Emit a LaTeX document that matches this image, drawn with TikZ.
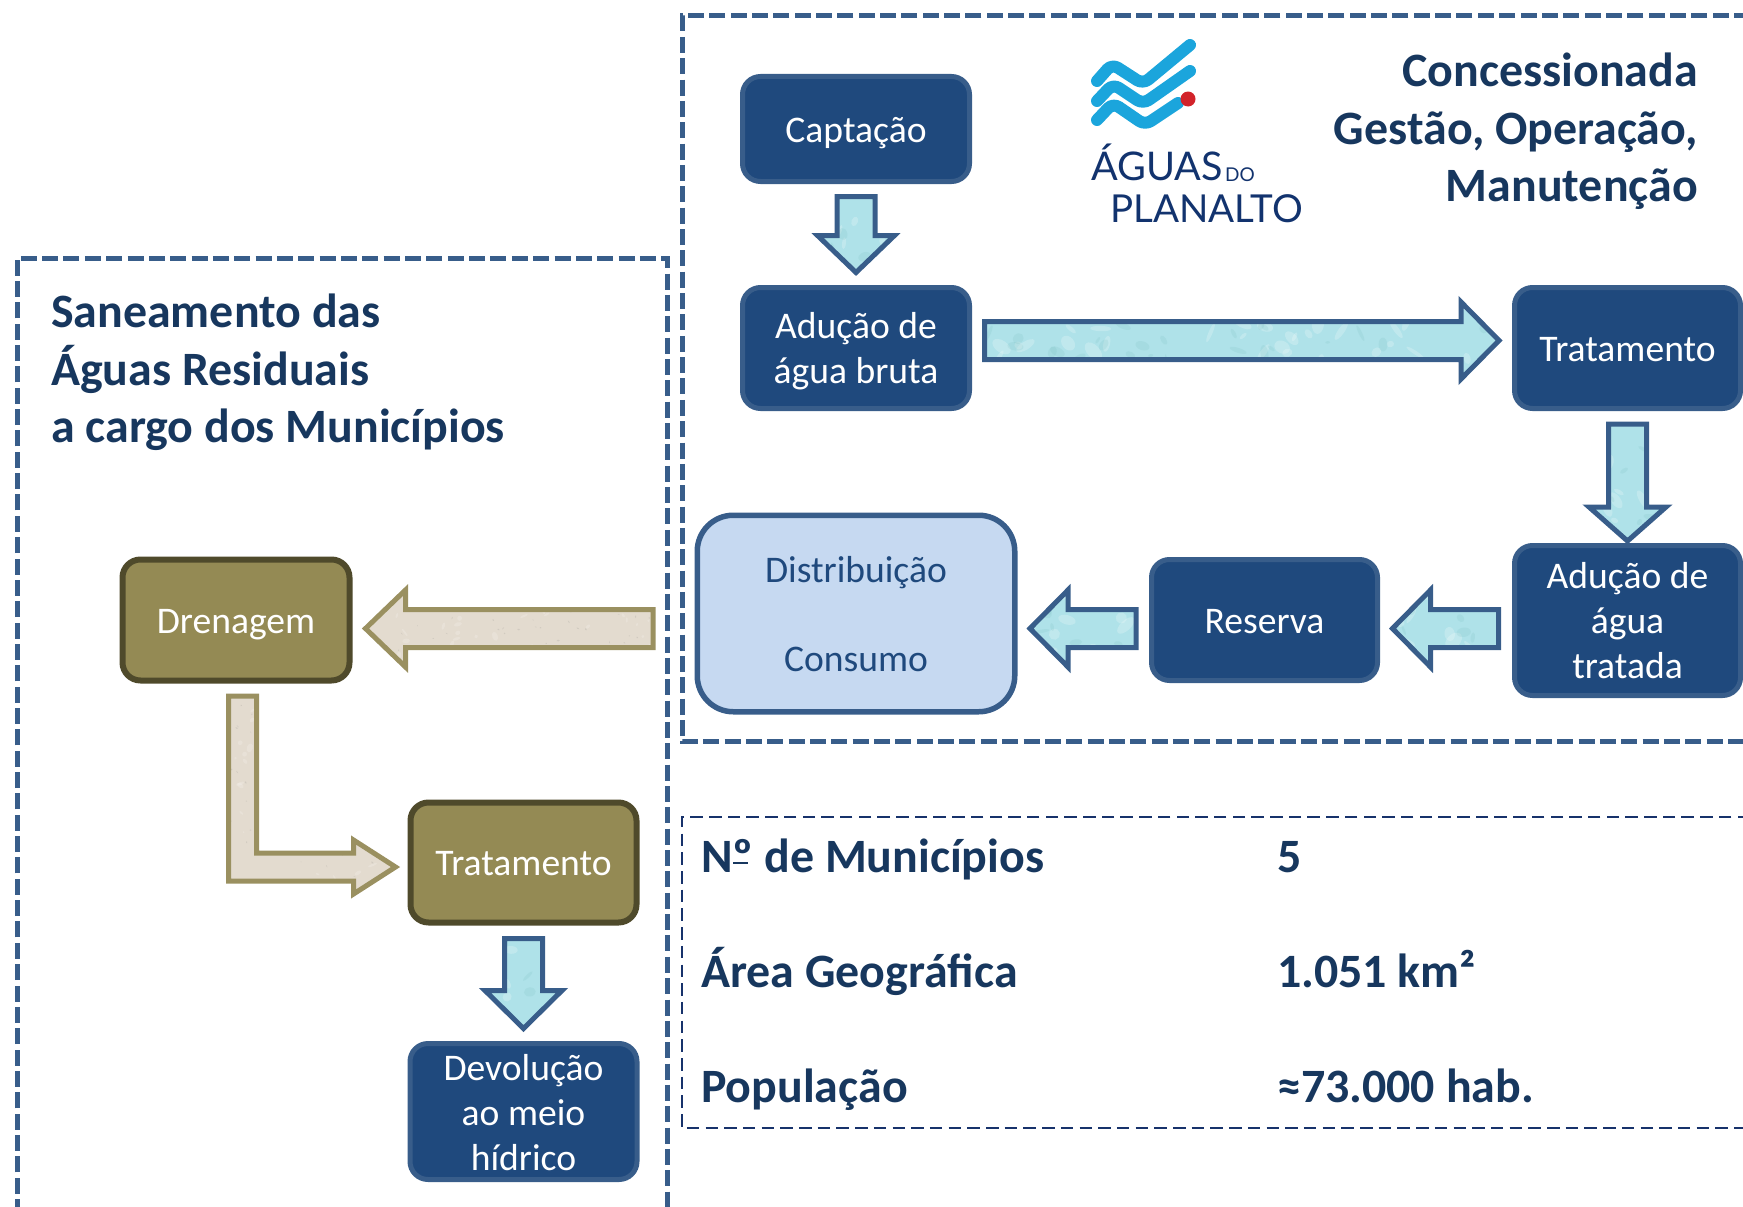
\documentclass[tikz,border=0pt]{standalone}
\usepackage{fontspec}
\setmainfont{Carlito}
\newfontfamily\logofont{Lato}
\usetikzlibrary{calc}
\definecolor{boxblue}{HTML}{1F497D}
\definecolor{edgeblue}{HTML}{385D8A}
\definecolor{lightblue}{HTML}{C6D9F1}
\definecolor{olivefill}{HTML}{948A54}
\definecolor{oliveedge}{HTML}{4F4A2B}
\definecolor{arrowolive}{HTML}{9A9060}
\definecolor{parch}{HTML}{E3DBCF}
\definecolor{navy}{HTML}{17375E}
\definecolor{thinnavy}{HTML}{17326B}
\definecolor{water}{HTML}{AFE2E9}
\definecolor{logoblue}{HTML}{1BA5DC}
\definecolor{logored}{HTML}{D2232A}
\definecolor{logonavy}{HTML}{12336E}
\newcommand\texturespots[5]{% count, colour, opacity, min radius, spread
  \foreach \i in {1,...,#1}{
    \pgfmathsetmacro\rx{rnd}\pgfmathsetmacro\ry{rnd}
    \pgfmathsetmacro\ra{#4+#5*rnd}\pgfmathsetmacro\rb{(#4+#5*rnd)*0.6}\pgfmathsetmacro\rt{rnd*180}
    \coordinate (pa) at ($(path picture bounding box.south west)!\rx!(path picture bounding box.north east)$);
    \coordinate (pb) at ($(path picture bounding box.south west)!\ry!(path picture bounding box.north east)$);
    \coordinate (pc) at (pa |- pb);
    \fill[#2,opacity=#3,rotate around={\rt:(pc)}] (pc) ellipse ({\ra pt} and {\rb pt});
  }}
\tikzset{
  x=1pt,y=-1pt,
  txt/.style={font=\fontsize{37.6}{45}\selectfont,align=center,inner sep=0pt},
  flowbox/.style={inner sep=0pt,rounded corners=18pt,line width=5pt,draw=edgeblue,fill=boxblue},
  olivebox/.style={inner sep=0pt,rounded corners=18pt,line width=6pt,draw=oliveedge,fill=olivefill},
  lightbox/.style={inner sep=0pt,rounded corners=36pt,line width=5.5pt,draw=edgeblue,fill=lightblue},
  title/.style={font=\fontsize{47.9}{58}\selectfont\bfseries,text=navy,inner sep=0pt,align=left},
  frame/.style={line width=5pt,draw=edgeblue,dash pattern=on 16pt off 5.35pt},
  thinframe/.style={line width=2.4pt,draw=thinnavy,dash pattern=on 12.5pt off 6.2pt},
  waterarrow/.style={line width=5pt,draw=edgeblue,fill=water,miter limit=10,
    path picture={\texturespots{#1}{white}{0.22}{3}{8}\texturespots{#1}{teal!55}{0.16}{2}{7}}},
  parcharrow/.style={line width=5pt,draw=arrowolive,fill=parch,
    path picture={\texturespots{#1}{gray}{0.18}{0.5}{1.2}\texturespots{#1}{white}{0.18}{1}{4}}},
  wave/.style={line width=12pt,draw=logoblue,line cap=round,line join=round,rounded corners=7pt},
}
% style, tail, tip, head length
\newcommand\blockarrow[4]{%
  \coordinate (sh) at ($(#3)!#4pt!(#2)$);
  \draw[#1] ($(#2)!19pt!90:(#3)$) -- ($(sh)!19pt!-90:(#2)$) -- ($(sh)!38.5pt!-90:(#2)$) -- (#3)
    -- ($(sh)!38.5pt!90:(#2)$) -- ($(sh)!19pt!90:(#2)$) -- ($(#2)!19pt!-90:(#3)$) -- cycle;}
\begin{document}
\begin{tikzpicture}
\useasboundingbox (0,0) rectangle (1743,1207);
\pgfmathsetseed{4242}
% frames
\coordinate (tr1) at (1750,16); \coordinate (tr2) at (682,16); \coordinate (tr3) at (682,741.5); \coordinate (tr4) at (1750,741.5);
\draw[frame] (tr1) -- (tr2) -- (tr3) -- (tr4);
\coordinate (lf1) at (17,1215); \coordinate (lf2) at (17,258); \coordinate (lf3) at (667,258); \coordinate (lf4) at (667,1215);
\draw[frame] (lf1) -- (lf2) -- (lf3) -- (lf4);
\coordinate (th1) at (1750,817); \coordinate (th2) at (682,817); \coordinate (th3) at (682,1128); \coordinate (th4) at (1750,1128);
\draw[thinframe] (th1) -- (th2) -- (th3) -- (th4);
% flow boxes (text as centred labels, so that it can sit as low in the box as the reference has it)
\node[flowbox,minimum width=227pt,minimum height=105pt,label={[txt,text=white,yshift=-4.5pt]center:Captação}] (cap) at (856,129) {};
\node[flowbox,minimum width=227pt,minimum height=121pt,label={[txt,text=white,yshift=-3.4pt]center:Adução de\\água bruta}] (adb) at (856,348) {};
\node[flowbox,minimum width=226pt,minimum height=121pt,label={[txt,text=white,yshift=-1.2pt]center:Tratamento}] (trat) at (1627.5,348) {};
\node[flowbox,minimum width=226pt,minimum height=150pt,label={[txt,text=white,yshift=0.3pt]center:Adução de\\água\\tratada}] (adt) at (1627.5,620.5) {};
\node[flowbox,minimum width=226pt,minimum height=121pt,label={[txt,text=white,yshift=-1.2pt]center:Reserva}] (res) at (1264.5,620) {};
\node[lightbox,minimum width=317.5pt,minimum height=196.5pt,label={[txt,text=boxblue,yshift=-0.5pt]center:Distribuição\\[44pt]Consumo}] (dist) at (856,613.5) {};
\node[olivebox,minimum width=227pt,minimum height=121pt,label={[txt,text=white,yshift=-4.4pt]center:Drenagem}] (dren) at (236,620) {};
\node[olivebox,minimum width=226pt,minimum height=120pt,label={[txt,text=white,yshift=-1pt]center:Tratamento}] (trat2) at (523.5,862.5) {};
\node[flowbox,minimum width=227pt,minimum height=136pt,label={[txt,text=white,yshift=-1.2pt]center:Devolução\\ao meio\\hídrico}] (dev) at (523.5,1111.5) {};
% block arrows
\coordinate (a1t) at ($(cap.south)+(0,12.5)$); \coordinate (a1h) at ($(adb.north)+(0,-12.5)$);
\blockarrow{waterarrow=7}{a1t}{a1h}{37}
\coordinate (a2t) at ($(adb.east)+(12.5,-7.5)$); \coordinate (a2h) at ($(trat.west)+(-13,-7.5)$);
\blockarrow{waterarrow=45}{a2t}{a2h}{38}
\coordinate (a3t) at ($(trat.south)+(0,13)$); \coordinate (a3h) at ($(adt.north)+(0,-2)$);
\blockarrow{waterarrow=12}{a3t}{a3h}{34}
\coordinate (a4t) at ($(adt.west)+(-13.5,8)$); \coordinate (a4h) at ($(res.east)+(12.5,8.5)$);
\blockarrow{waterarrow=12}{a4t}{a4h}{38}
\coordinate (a5t) at ($(res.west)+(-13,8.5)$); \coordinate (a5h) at ($(dist.east)+(12.5,15)$);
\blockarrow{waterarrow=12}{a5t}{a5h}{38}
\coordinate (a6t) at ($(dist.west)+(-41.5,15)$); \coordinate (a6h) at ($(dren.east)+(13,8.5)$);
\blockarrow{parcharrow=60}{a6t}{a6h}{40}
\coordinate (a7t) at ($(trat2.south)+(0,13)$); \coordinate (a7h) at ($(dev.north)+(0,-12.5)$);
\blockarrow{waterarrow=8}{a7t}{a7h}{38}
% L-shaped arrow from Drenagem to Tratamento
\coordinate (l0) at ($(dren.south)+(6.5,12.5)$);
\coordinate (lh) at ($(trat2.west)+(-12,4.5)$);
\draw[parcharrow=60] ($(l0)+(-14,0)$) -- ($(l0)+(14,0)$) |- ($(lh)+(-42,-14)$) -- ($(lh)+(-42,-27)$) -- (lh)
  -- ($(lh)+(-42,27)$) -- ($(lh)+(-42,14)$) -| ($(l0)+(-14,0)$) -- cycle;
% titles
\node[title,anchor=base east,align=right] (t1) at (1698,86) {Concessionada};
\node[title,anchor=base east,align=right] (t2) at (1698,144) {Gestão, Operação,};
\node[title,anchor=base east,align=right] (t3) at (1698,201) {Manutenção};
\node[title,anchor=base west] (t4) at (51,327) {Saneamento das};
\node[title,anchor=base west] (t5) at (51,385) {Águas Residuais};
\node[title,anchor=base west] (t6) at (51,442) {a cargo dos Municípios};
% data table
\node[title,anchor=base west] (d1) at (701,872) {N\rlap{\kern0.5pt\rule[8pt]{15pt}{2.4pt}}º de Municípios};
\node[title,anchor=base west] (d2) at (701,987) {Área Geográfica};
\node[title,anchor=base west] (d3) at (701,1102) {População};
\node[title,anchor=base west] (v1) at (1277,872) {5};
\node[title,anchor=base west] (v2) at (1277,987) {1.051 km²};
\node[title,anchor=base west] (v3) at (1277,1102) {≈73.000 hab.};
% logo
\draw[wave] (1097,81) -- (1112,64) -- (1143,84) -- (1190,45);
\draw[wave] (1097,101) -- (1113,84) -- (1143,104) -- (1190,71);
\draw[wave] (1097,120) -- (1113,103) -- (1145,125) -- (1178,103);
\fill[logored] (1188,99) circle (7.5);
\node[anchor=base west,inner sep=0pt,text=logonavy,font=\logofont\fontsize{39.5}{38}\selectfont] (lg1) at (1091,180) {ÁGUAS};
\node[anchor=base west,inner sep=0pt,text=logonavy,font=\logofont\fontsize{19}{19}\selectfont] (lg2) at (1225,181) {DO};
\node[anchor=base west,inner sep=0pt,text=logonavy,font=\logofont\fontsize{38.5}{40}\selectfont] (lg3) at (1110,222) {PLANALTO};
\end{tikzpicture}
\end{document}
